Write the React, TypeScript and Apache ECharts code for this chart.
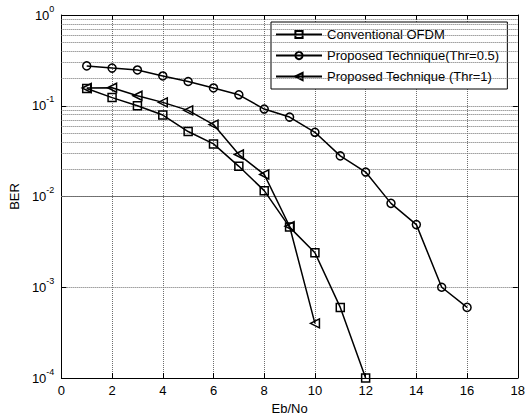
import React, { useEffect, useRef } from "react";
import * as echarts from "echarts";

const ebNoConv = [1, 2, 3, 4, 5, 6, 7, 8, 9, 10, 11, 12];
const berConv = [0.155, 0.123, 0.1, 0.079, 0.052, 0.038, 0.0215, 0.0116, 0.0046, 0.0024, 0.0006, 0.0001];
const ebNoThr05 = [1, 2, 3, 4, 5, 6, 7, 8, 9, 10, 11, 12, 13, 14, 15, 16];
const berThr05 = [0.275, 0.26, 0.248, 0.213, 0.185, 0.157, 0.132, 0.092, 0.075, 0.051, 0.028, 0.0186, 0.0084, 0.0049, 0.001, 0.0006];
const ebNoThr1 = [1, 2, 3, 4, 5, 6, 7, 8, 9, 10];
const berThr1 = [0.157, 0.158, 0.129, 0.109, 0.089, 0.062, 0.029, 0.0175, 0.0047, 0.0004];
const seriesNames = ["Conventional OFDM", "Proposed Technique(Thr=0.5)", "Proposed Technique (Thr=1)"];
const decades = [1e-4, 1e-3, 1e-2, 1e-1];
const mantissas = [2, 3, 4, 5, 6, 7, 8, 9];
const xName = "Eb/No";
const yName = "BER";

const FONT = "Liberation Sans, Arial, sans-serif";

function zip(xs: number[], ys: number[]) {
  return xs.map((x, i) => [x, ys[i]]);
}

export default function App() {
  const ref = useRef<HTMLDivElement>(null);
  useEffect(() => {
    document.body.style.margin = "0";
    const chart = echarts.init(ref.current!, null, { renderer: "svg" });
    const minorValues: number[] = [];
    decades.forEach((d) => mantissas.forEach((m) => minorValues.push(m * d)));
    const gridLine = { color: "#6e6e6e", width: 1, type: [1, 1] as any };
    const lineBase = (name: string, data: number[][], symbol: string, rotate = 0, size = 8) => ({
      type: "line",
      name,
      data,
      symbol,
      symbolSize: size,
      symbolRotate: rotate,
      showAllSymbol: true,
      color: "#000",
      lineStyle: { color: "#000", width: 1.5 },
      itemStyle: { color: "none", borderColor: "#000", borderWidth: 1.5 },
      z: 5,
    });
    const axisCommon = {
      axisLine: { show: true, onZero: false, lineStyle: { color: "#000", width: 1 } },
      axisTick: { show: true, inside: true, length: 5, lineStyle: { color: "#000" } },
    };
    chart.setOption({
      animation: false,
      backgroundColor: "#fff",
      textStyle: { fontFamily: FONT },
      grid: { left: 56, right: 7, top: 15, bottom: 41, containLabel: false },
      legend: {
        data: seriesNames,
        orient: "vertical",
        left: 271,
        top: 22,
        width: 243,
        backgroundColor: "#fff",
        borderColor: "#000",
        borderWidth: 1,
        borderRadius: 0,
        padding: [6, 8, 6, 4],
        itemGap: 8,
        itemWidth: 46,
        itemHeight: 9,
        textStyle: { fontSize: 13, color: "#000", fontFamily: FONT, padding: [0, 0, 0, 0] },
      },
      xAxis: [
        {
          type: "value",
          min: 0,
          max: 18,
          interval: 2,
          position: "bottom",
          name: xName,
          nameLocation: "middle",
          nameGap: 24,
          nameTextStyle: { fontSize: 13, color: "#000", fontFamily: FONT },
          ...axisCommon,
          axisLabel: { color: "#000", fontSize: 13, margin: 6, fontFamily: FONT },
          splitLine: { show: true, lineStyle: gridLine },
        },
        {
          type: "value",
          min: 0,
          max: 18,
          interval: 2,
          position: "top",
          ...axisCommon,
          axisLabel: { show: false },
          splitLine: { show: false },
        },
      ],
      yAxis: [
        {
          type: "log",
          logBase: 10,
          min: 1e-4,
          max: 1,
          position: "left",
          name: yName,
          nameLocation: "middle",
          nameGap: 38,
          nameRotate: 90,
          nameTextStyle: { fontSize: 13, color: "#000", fontFamily: FONT },
          ...axisCommon,
          axisLabel: {
            margin: 7,
            formatter: (v: number) => `{b|10}{s|${Math.round(Math.log10(v))}}`,
            rich: {
              b: { fontSize: 13, color: "#000", fontFamily: FONT, lineHeight: 22 },
              s: { fontSize: 9, color: "#000", fontFamily: FONT, verticalAlign: "top", lineHeight: 10 },
            },
          },
          splitLine: { show: true, lineStyle: gridLine },
        },
        {
          type: "log",
          logBase: 10,
          min: 1e-4,
          max: 1,
          position: "right",
          ...axisCommon,
          axisLabel: { show: false },
          splitLine: { show: false },
        },
      ],
      series: [
        {
          type: "line",
          name: "minor-grid",
          data: [],
          silent: true,
          z: 1,
          markLine: {
            silent: true,
            symbol: ["none", "none"],
            label: { show: false },
            lineStyle: { color: "#6e6e6e", width: 1, type: [1, 1] },
            emphasis: { disabled: true },
            data: minorValues.map((v) => ({ yAxis: v })),
          },
        },
        lineBase(seriesNames[0], zip(ebNoConv, berConv), "rect", 0, 8),
        lineBase(seriesNames[1], zip(ebNoThr05, berThr05), "circle", 0, 8),
        lineBase(seriesNames[2], zip(ebNoThr1, berThr1), "triangle", 90, 9),
      ],
    });
    return () => chart.dispose();
  }, []);
  return <div ref={ref} style={{ width: 528, height: 420, position: "absolute", left: 0, top: 0 }} />;
}
